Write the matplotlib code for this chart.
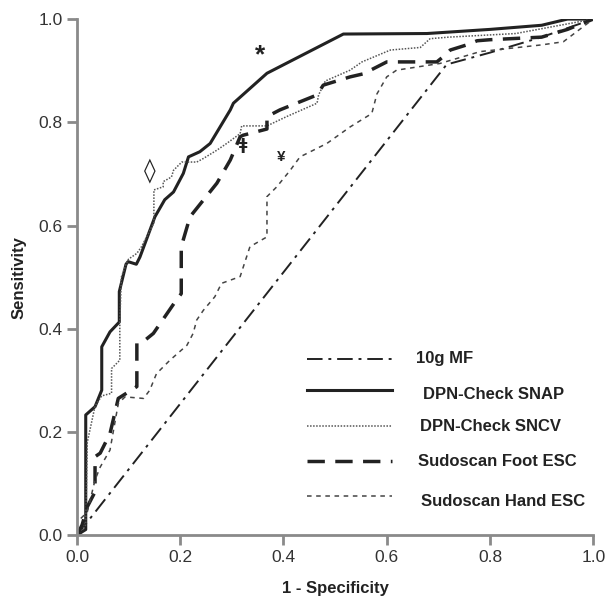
import matplotlib
matplotlib.use('Agg')
import matplotlib.pyplot as plt

plt.rcParams['font.family'] = ['Liberation Sans', 'DejaVu Sans']

# ROC curves (1 - specificity, sensitivity)
mf_x = [0.0, 0.716, 0.80, 0.90, 1.0]
mf_y = [0.0, 0.912, 0.935, 0.965, 1.0]

snap_x = [0.0, 0.009, 0.017, 0.017, 0.035, 0.048, 0.048, 0.064, 0.082, 0.082, 0.095, 0.099,
          0.115, 0.122, 0.151, 0.170, 0.187, 0.206, 0.216, 0.238, 0.258, 0.297, 0.303,
          0.368, 0.516, 0.678, 0.80, 0.90, 0.95, 1.0]
snap_y = [0.0, 0.006, 0.011, 0.233, 0.249, 0.281, 0.365, 0.394, 0.413, 0.472, 0.525, 0.530,
          0.525, 0.539, 0.617, 0.650, 0.665, 0.701, 0.733, 0.743, 0.759, 0.824, 0.837,
          0.895, 0.971, 0.972, 0.980, 0.988, 1.0, 1.0]

sncv_x = [0.0, 0.017, 0.020, 0.035, 0.048, 0.067, 0.067, 0.083, 0.083, 0.086, 0.095, 0.100,
          0.116, 0.125, 0.149, 0.149, 0.167, 0.167, 0.183, 0.187, 0.203, 0.232, 0.245,
          0.271, 0.290, 0.316, 0.319, 0.368, 0.406, 0.465, 0.468, 0.481, 0.529, 0.552,
          0.607, 0.665, 0.684, 0.720, 0.85, 1.0]
sncv_y = [0.0, 0.02, 0.18, 0.25, 0.270, 0.275, 0.323, 0.339, 0.413, 0.50, 0.525, 0.535,
          0.546, 0.559, 0.605, 0.669, 0.675, 0.685, 0.694, 0.707, 0.723, 0.723, 0.730,
          0.746, 0.759, 0.778, 0.793, 0.793, 0.811, 0.837, 0.853, 0.880, 0.901, 0.917,
          0.940, 0.945, 0.962, 0.965, 0.972, 1.0]

foot_x = [0.0, 0.010, 0.020, 0.035, 0.035, 0.045, 0.064, 0.080, 0.116, 0.116, 0.132, 0.148,
          0.190, 0.202, 0.202, 0.219, 0.271, 0.297, 0.316, 0.322, 0.368, 0.368, 0.393,
          0.465, 0.477, 0.529, 0.555, 0.600, 0.697, 0.713, 0.723, 0.755, 0.775, 0.80,
          0.90, 0.95, 1.0]
foot_y = [0.0, 0.02, 0.055, 0.084, 0.152, 0.159, 0.197, 0.265, 0.288, 0.372, 0.378, 0.391,
          0.452, 0.468, 0.559, 0.617, 0.682, 0.727, 0.772, 0.775, 0.787, 0.811, 0.824,
          0.853, 0.872, 0.888, 0.894, 0.917, 0.917, 0.930, 0.940, 0.950, 0.958, 0.960,
          0.965, 0.980, 1.0]

hand_x = [0.0, 0.0, 0.020, 0.035, 0.045, 0.064, 0.080, 0.093, 0.129, 0.141, 0.154, 0.180,
          0.213, 0.225, 0.232, 0.245, 0.267, 0.280, 0.316, 0.335, 0.368, 0.368, 0.387,
          0.413, 0.432, 0.484, 0.529, 0.571, 0.581, 0.600, 0.619, 0.703, 0.781, 0.90,
          0.942, 1.0]
hand_y = [0.0, 0.025, 0.045, 0.107, 0.132, 0.165, 0.255, 0.268, 0.265, 0.281, 0.313, 0.339,
          0.368, 0.391, 0.417, 0.436, 0.462, 0.488, 0.501, 0.559, 0.578, 0.656, 0.675,
          0.707, 0.733, 0.759, 0.791, 0.817, 0.855, 0.888, 0.901, 0.914, 0.937, 0.950,
          0.956, 1.0]

labels = ['10g MF', 'DPN-Check SNAP', 'DPN-Check SNCV', 'Sudoscan Foot ESC', 'Sudoscan Hand ESC']
ticks = [0.0, 0.2, 0.4, 0.6, 0.8, 1.0]

fig = plt.figure(figsize=(6.06, 5.96), dpi=100)
ax = fig.add_axes([0.127, 0.102, 0.852, 0.866])

ink = '#222222'
styles = [
    dict(color=ink, lw=1.4, dashes=(8, 3, 1.5, 3)),
    dict(color=ink, lw=2.2, linestyle='-'),
    dict(color='#555555', lw=1.1, dashes=(1, 1)),
    dict(color=ink, lw=2.5, dashes=(5, 3)),
    dict(color='#444444', lw=1.1, dashes=(3, 3)),
]
series = [(mf_x, mf_y), (snap_x, snap_y), (sncv_x, sncv_y), (foot_x, foot_y), (hand_x, hand_y)]
for (xs, ys), st in zip(series, styles):
    ax.plot(xs, ys, **st)

# hand-drawn style legend inside the plot
leg_y = [0.342, 0.282, 0.211, 0.143, 0.076]
txt_y = [0.342, 0.273, 0.210, 0.142, 0.066]
txt_x = [0.657, 0.670, 0.664, 0.660, 0.667]
for ly, ty, tx, lab, st in zip(leg_y, txt_y, txt_x, labels, styles):
    ax.plot([0.445, 0.610], [ly, ly], **st)
    ax.text(tx, ty, lab, fontsize=12, fontweight='bold', color=ink, va='center', ha='left')

# significance marks
ax.text(0.355, 0.93, '*', fontsize=19, fontweight='bold', ha='center', va='center', color=ink)
ax.text(0.141, 0.707, '\u25CA', fontsize=17, fontweight='bold', ha='center', va='center',
        color=ink, family=['DejaVu Sans'])
ax.text(0.322, 0.756, '\u01C2', fontsize=11, fontweight='bold', ha='center', va='center',
        color=ink, family=['DejaVu Sans'])
ax.text(0.395, 0.733, '\u00A5', fontsize=11, fontweight='bold', ha='center', va='center', color=ink)

ax.set_xlim(0, 1)
ax.set_ylim(0, 1)
ax.set_xticks(ticks)
ax.set_yticks(ticks)
ax.set_xticklabels([f'{t:.1f}' for t in ticks])
ax.set_yticklabels([f'{t:.1f}' for t in ticks])
for side in ['top', 'right']:
    ax.spines[side].set_visible(False)
for side in ['left', 'bottom']:
    ax.spines[side].set_color('#8a8a8a')
    ax.spines[side].set_linewidth(2)
ax.tick_params(colors='#8a8a8a', width=2, length=7, labelsize=12.5, labelcolor='#333333')

ax.set_xlabel('1 - Specificity', fontsize=12, fontweight='bold', color=ink, labelpad=12)
ax.set_ylabel('Sensitivity', fontsize=12, fontweight='bold', color=ink, labelpad=8)

fig.savefig('out.png', dpi=100)
